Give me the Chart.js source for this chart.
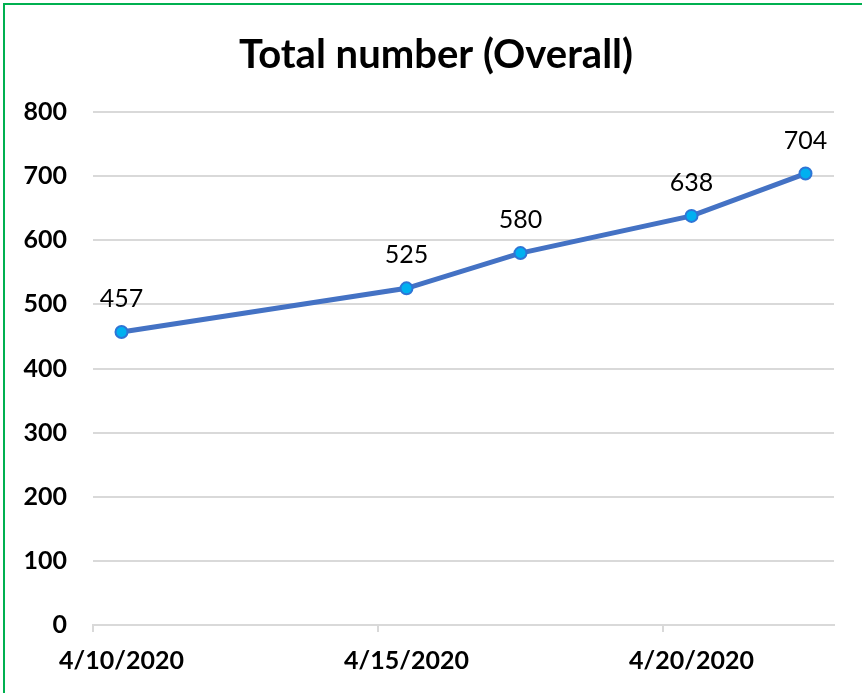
<!DOCTYPE html>
<html>
<head>
<meta charset="utf-8">
<script src="https://cdn.jsdelivr.net/npm/chart.js@4.4.1/dist/chart.umd.min.js"></script>
<style>
    html, body { margin: 0; padding: 0; background: #fff; }
    #wrap { position: relative; width: 862px; height: 693px; overflow: hidden; }
    #frame { position: absolute; left: 3px; top: 3px; width: 900px; height: 800px;
             border-left: 2px solid #00b050; border-top: 2px solid #00b050; box-sizing: border-box; }
    canvas { position: absolute; left: 0; top: 0; }
</style>
</head>
<body>
<div id="wrap">
    <div id="frame"></div>
    <canvas id="lineChart" width="862" height="693"></canvas>
</div>
<script>
// data
const dates = ['4/10/2020', '4/15/2020', '4/17/2020', '4/20/2020', '4/22/2020'];
const totals = [457, 525, 580, 638, 704];
const tickDays = [0, 5, 10];     // labelled ticks, days after start
const startDate = '4/10/2020';
const endDays = 13;              // axis runs up to 4/23
const TITLE = 'Total number (Overall)';

const FONT = 'Lato';
const LINECOLOR = '#4472c4';
const POINTCOLOR = '#00b0f0';
const GRIDCOLOR = '#d9d9d9';

function parseDay(str) {
    var arr = str.split('/');
    return new Date(parseInt(arr[2]), parseInt(arr[0]) - 1, parseInt(arr[1]));
}

function daysFromStart(str) {
    return Math.round((parseDay(str) - parseDay(startDate)) / 86400000);
}

function dayLabel(days) {
    var d = parseDay(startDate);
    d.setDate(d.getDate() + days);
    return (d.getMonth() + 1) + '/' + d.getDate() + '/' + d.getFullYear();
}

// excel puts a date point in the middle of its day
const points = dates.map((d, i) => ({ x: daysFromStart(d) + 0.5, y: totals[i] }));

const valueLabels = {
    id: 'valueLabels',
    afterDatasetsDraw(chart) {
        const ctx = chart.ctx;
        const meta = chart.getDatasetMeta(0);
        ctx.save();
        ctx.font = '25px ' + FONT;
        ctx.fillStyle = '#000';
        ctx.textAlign = 'center';
        ctx.textBaseline = 'middle';
        meta.data.forEach((pt, i) => {
            ctx.fillText(totals[i], pt.x, pt.y - 33);
        });
        ctx.restore();
    }
};

// title drawn by hand: excel centres it on the whole frame, not on the chart area
const chartTitle = {
    id: 'chartTitle',
    afterDraw(chart) {
        const ctx = chart.ctx;
        ctx.save();
        ctx.font = 'bold 40px ' + FONT;
        ctx.fillStyle = '#000';
        ctx.textAlign = 'center';
        ctx.textBaseline = 'middle';
        ctx.fillText(TITLE, 436, 55);
        ctx.restore();
    }
};

const config = {
    type: 'line',
    data: {
        datasets: [{
            label: 'Total',
            data: points,
            borderColor: LINECOLOR,
            borderWidth: 5,
            pointRadius: 6,
            pointBorderWidth: 2,
            pointBackgroundColor: POINTCOLOR,
            pointBorderColor: '#2e75d6',
            tension: 0
        }]
    },
    options: {
        responsive: false,
        animation: false,
        layout: { padding: { left: 0, right: 28, top: 112, bottom: 0 } },
        plugins: {
            legend: { display: false },
            tooltip: { enabled: false },
            title: { display: false }
        },
        scales: {
            x: {
                type: 'linear',
                min: 0,
                max: endDays,
                afterBuildTicks: (scale) => { scale.ticks = tickDays.map(v => ({ value: v })); },
                afterFit: (scale) => { scale.height = 68; },
                ticks: {
                    color: '#000',
                    font: { family: FONT, size: 25, weight: 'bold' },
                    padding: 14,
                    labelOffset: 28.5,   // labels sit under the middle of the day
                    autoSkip: false,
                    maxRotation: 0,
                    callback: (v) => dayLabel(v)
                },
                grid: { drawOnChartArea: false, drawTicks: true, tickLength: 7, color: GRIDCOLOR, lineWidth: 2 },
                border: { display: true, color: GRIDCOLOR, width: 2 }
            },
            y: {
                min: 0,
                max: 800,
                afterFit: (scale) => { scale.width = 93; },
                ticks: {
                    stepSize: 100,
                    color: '#000',
                    font: { family: FONT, size: 25, weight: 'bold' },
                    padding: 26
                },
                grid: { drawTicks: false, color: GRIDCOLOR, lineWidth: 2 },
                border: { display: false }
            }
        }
    },
    plugins: [valueLabels, chartTitle]
};

window.addEventListener('DOMContentLoaded', function () {
    var ctx = document.getElementById('lineChart');
    new Chart(ctx, config);
});
</script>
</body>
</html>
